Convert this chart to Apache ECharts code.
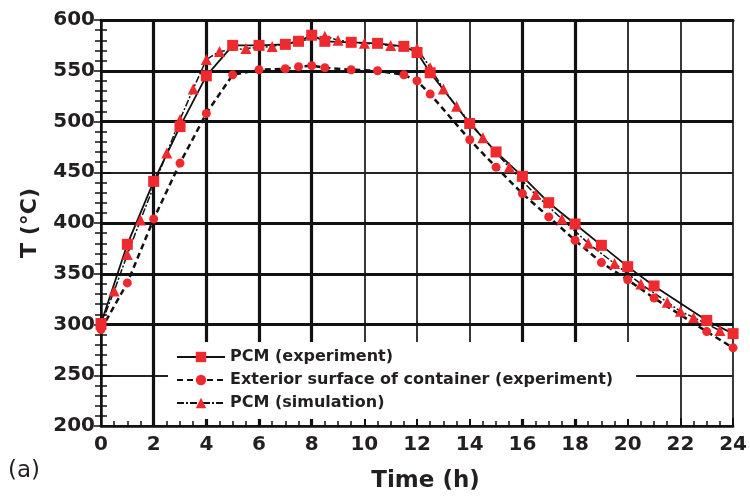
<!DOCTYPE html>
<html>
<head>
<meta charset="utf-8">
<script src="https://cdn.jsdelivr.net/npm/echarts@6/dist/echarts.min.js"></script>
<style>
html, body {margin: 0; padding: 0; background: #fff;}
#chartBox {width: 750px; height: 498px;}
</style>
</head>
<body>
<div id="chartBox"></div>
<script>
// PCM (experiment) - squares
let pcmExpHours = [0, 1, 2, 3, 4, 5, 6, 7, 7.5, 8, 8.5, 9.5, 10.5, 11.5, 12, 12.5, 14, 15, 16, 17, 18, 19, 20, 21, 23, 24];
let pcmExpTemp = [301, 379, 441, 495, 545, 575, 575, 576, 579, 585, 579, 578, 577, 574, 568, 548, 498, 470, 446, 420, 399, 378, 357, 338, 304, 291];
// exterior surface of container (experiment) - circles, same hours
let extTemp = [295, 341, 404, 459, 508, 546, 551, 552, 554, 555, 553, 551, 550, 546, 540, 527, 482, 455, 429, 406, 383, 361, 344, 326, 293, 277];
// PCM (simulation) - triangles
let simHours = [0, 0.5, 1, 1.5, 2.5, 3, 3.5, 4, 4.5, 5.5, 6.5, 8.5, 9, 10, 11, 12, 12.5, 13, 13.5, 14.5, 15.5, 16.5, 17.5, 18.5, 19.5, 20.5, 21.5, 22, 22.5, 23.5];
let simTemp = [300, 333, 369, 403, 469, 502, 532, 561, 569, 572, 574, 584, 580, 577, 575, 572, 553, 532, 515, 484, 455, 428, 404, 380, 360, 340, 322, 313, 307, 294];

let seriesNames = ['PCM (experiment)', 'Exterior surface of container (experiment)', 'PCM (simulation)'];
// grid lines that are printed heavier in the original
let thickX = [2, 4, 6, 8, 16, 18];
let thickY = [300, 350, 400, 500, 550];

let zip = function (xs, ys) {
    return xs.map(function (x, i) { return [x, ys[i]]; });
};

let textColor = '#231f20';
let markRed = '#ee2a2f';
let font = 'DejaVu Sans';

let chartBox = echarts.init(document.getElementById('chartBox'));
let option = {
    animation: false,
    backgroundColor: '#fff',
    grid: {left: 101, right: 12, top: 20, bottom: 70},
    legend: {
        data: seriesNames, orient: 'vertical', left: 168, top: 342,
        backgroundColor: '#fff', padding: [7, 23, 8, 8],
        itemWidth: 48, itemHeight: 13, itemGap: 7,
        textStyle: {fontFamily: font, fontWeight: 'bold', fontSize: 16, color: textColor}
    },
    graphic: [{
        type: 'text', left: 8, top: 460,
        style: {text: '(a)', fontFamily: font, fontSize: 23, fill: textColor}
    }],
    xAxis: [{
        type: 'value', min: 0, max: 24, interval: 2,
        name: 'Time (h)', nameLocation: 'middle', nameGap: 44,
        nameTextStyle: {fontFamily: font, fontWeight: 'bold', fontSize: 23, color: textColor, padding: [0, 0, 0, 17]},
        axisLine: {show: true, lineStyle: {color: '#111', width: 2.5}},
        axisTick: {show: true, inside: true, length: 8, lineStyle: {color: '#111', width: 2}},
        minorTick: {show: true, splitNumber: 4, length: 5, lineStyle: {color: '#111', width: 1.5}},
        axisLabel: {margin: 9, fontFamily: font, fontWeight: 'bold', fontSize: 20, color: textColor},
        splitLine: {show: true, lineStyle: {color: '#222', width: 1.8}}
    }, {
        type: 'value', min: 0, max: 24, position: 'top',
        axisLine: {show: true, lineStyle: {color: '#111', width: 3}},
        axisTick: {show: false}, axisLabel: {show: false}, splitLine: {show: false}
    }],
    yAxis: [{
        type: 'value', min: 200, max: 600, interval: 50,
        name: 'T (°C)', nameLocation: 'middle', nameGap: 60, nameRotate: 90,
        nameTextStyle: {fontFamily: font, fontWeight: 'bold', fontSize: 22, color: textColor},
        axisLine: {show: true, lineStyle: {color: '#111', width: 2.5}},
        axisTick: {show: true, inside: true, length: 10, lineStyle: {color: '#111', width: 2}},
        minorTick: {show: true, splitNumber: 5, length: 6, lineStyle: {color: '#111', width: 1.5}},
        axisLabel: {margin: 6, fontFamily: font, fontWeight: 'bold', fontSize: 20, color: textColor},
        splitLine: {show: true, lineStyle: {color: '#222', width: 1.8}}
    }, {
        type: 'value', min: 200, max: 600, interval: 50, position: 'right',
        axisLine: {show: true, lineStyle: {color: '#111', width: 2}},
        axisTick: {show: true, inside: true, length: 7, lineStyle: {color: '#111', width: 1.5}},
        minorTick: {show: true, splitNumber: 5, length: 6, lineStyle: {color: '#111', width: 1.5}},
        axisLabel: {show: false}, splitLine: {show: false}
    }],
    series: [{
        name: seriesNames[0], type: 'line', data: zip(pcmExpHours, pcmExpTemp),
        symbol: 'rect', symbolSize: 11, z: 3,
        itemStyle: {color: markRed},
        lineStyle: {color: '#111', width: 1.8, type: 'solid'},
        markLine: {
            silent: true, symbol: 'none', z: 1, label: {show: false},
            lineStyle: {color: '#111', width: 3.2, type: 'solid'},
            data: thickX.map(function (v) { return {xAxis: v}; })
                .concat(thickY.map(function (v) { return {yAxis: v}; }))
        }
    }, {
        name: seriesNames[1], type: 'line', data: zip(pcmExpHours, extTemp),
        symbol: 'circle', symbolSize: 9, z: 3,
        itemStyle: {color: markRed},
        lineStyle: {color: '#111', width: 2.5, type: [6, 4]}
    }, {
        name: seriesNames[2], type: 'line', data: zip(simHours, simTemp),
        symbol: 'triangle', symbolSize: 11, z: 3,
        itemStyle: {color: markRed},
        lineStyle: {color: '#111', width: 1.5, type: [7, 2, 2, 2]}
    }]
};
chartBox.setOption(option, true);
</script>
</body>
</html>
